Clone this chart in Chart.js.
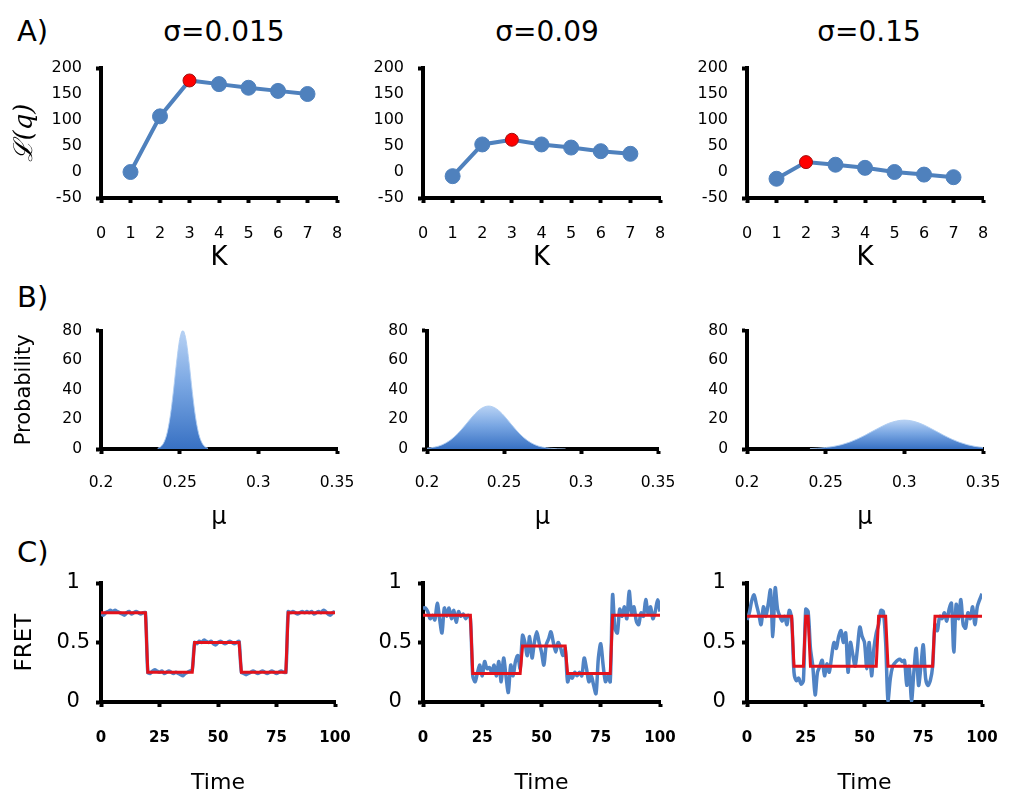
<!DOCTYPE html>
<html><head><meta charset="utf-8">
<script src="https://cdn.jsdelivr.net/npm/chart.js@4/dist/chart.umd.min.js"></script>
<style>
html,body{margin:0;padding:0;background:#fff;width:1024px;height:805px;overflow:hidden;position:relative;font-family:'DejaVu Sans',sans-serif;}
canvas{position:absolute;}
.lbl{position:absolute;color:#000;white-space:nowrap;line-height:1;}
.ctr{transform:translate(-50%,-50%);}
</style></head><body>
<div class="lbl" style="left:17px;top:17px;font-size:29px">A)</div>
<div class="lbl" style="left:17px;top:283px;font-size:29px">B)</div>
<div class="lbl" style="left:17px;top:538px;font-size:29px">C)</div>
<div class="lbl ctr" style="left:224px;top:32px;font-size:28px">σ=0.015</div>
<div class="lbl ctr" style="left:547px;top:32px;font-size:28px">σ=0.09</div>
<div class="lbl ctr" style="left:869px;top:32px;font-size:28px">σ=0.15</div>
<script>
// ---------- Row A: lower bound vs K ----------
const kValues = [1,2,3,4,5,6,7];
const kTicks = [0,1,2,3,4,5,6,7,8];
const likTicks = [-50,0,50,100,150,200];
const likSigma0015 = [0,107,176,169,162,156,150];
const likSigma009 = [-8,53,62,53,47,40,35];
const likSigma015 = [-13,19,14,8,0,-5,-10];

// ---------- Row B: posterior over mu ----------
const muTicks = [0.2,0.25,0.3,0.35];
const probTicks = [0,20,40,60,80];
const muSigma0015 = [0.236,0.238,0.240,0.242,0.244,0.246,0.248,0.250,0.252,0.254,0.256,0.258,0.260,0.262,0.264,0.266,0.268];
const probSigma0015 = [0.48,1.6,4.5,10.8,22.2,38.9,58.1,73.8,80,73.8,58.1,38.9,22.2,10.8,4.5,1.6,0.48];
const muSigma009 = [0.200,0.205,0.210,0.215,0.220,0.225,0.230,0.235,0.240,0.245,0.250,0.255,0.260,0.265,0.270,0.275,0.280,0.285,0.290];
const probSigma009 = [0.49,1.27,2.92,5.89,10.45,16.3,22.5,27.2,29,27.2,22.5,16.3,10.45,5.89,2.92,1.27,0.49,0.16,0.05];
const muSigma015 = [0.240,0.245,0.250,0.255,0.260,0.265,0.270,0.275,0.280,0.285,0.290,0.295,0.300,0.305,0.310,0.315,0.320,0.325,0.330,0.335,0.340,0.345,0.350];
const probSigma015 = [0.27,0.53,1.0,1.75,2.9,4.54,6.68,9.27,12.1,14.9,17.3,18.9,19.5,18.9,17.3,14.9,12.1,9.27,6.68,4.54,2.9,1.75,1.0];

// ---------- Row C: FRET traces and fitted paths ----------
const timeTicks = [0,25,50,75,100];
const fretTicks = [0,0.5,1];
const fretSigma0015 = [
 0.74,0.73,0.75,0.76,0.77,0.76,0.77,0.76,0.75,0.74,0.73,0.75,0.76,0.74,0.75,0.76,0.75,0.74,0.75,0.75,
 0.25,0.24,0.26,0.27,0.26,0.25,0.26,0.24,0.25,0.26,0.25,0.24,0.25,0.24,0.23,0.22,0.24,0.25,0.26,0.27,
 0.50,0.49,0.51,0.50,0.52,0.51,0.50,0.51,0.49,0.48,0.50,0.51,0.50,0.49,0.50,0.51,0.50,0.49,0.50,0.51,
 0.25,0.24,0.23,0.24,0.25,0.26,0.25,0.24,0.25,0.26,0.25,0.24,0.25,0.26,0.25,0.24,0.25,0.26,0.25,0.25,
 0.76,0.75,0.76,0.75,0.74,0.75,0.76,0.75,0.76,0.75,0.76,0.74,0.75,0.76,0.75,0.77,0.76,0.74,0.73,0.75,0.76];
const pathTimeSigma0015 = [0,19,20,39,40,59,60,79,80,100];
const pathLevelSigma0015 = [0.75,0.75,0.25,0.25,0.5,0.5,0.25,0.25,0.75,0.75];

const fretSigma009 = [
 0.79,0.79,0.76,0.70,0.73,0.69,0.83,0.70,0.58,0.79,0.72,0.79,0.70,0.77,0.67,0.76,0.72,0.74,0.70,0.73,0.70,
 0.22,0.17,0.25,0.31,0.22,0.34,0.28,0.29,0.25,0.31,0.22,0.34,0.17,0.37,0.22,0.08,0.31,0.22,0.34,0.39,0.28,
 0.56,0.50,0.39,0.55,0.37,0.50,0.59,0.50,0.42,0.31,0.48,0.53,0.59,0.50,0.42,0.50,0.46,0.39,0.45,
 0.17,0.22,0.20,0.25,0.22,0.25,0.22,0.37,0.28,0.17,0.22,0.14,0.07,0.37,0.49,0.31,0.17,0.22,0.17,
 0.90,0.62,0.58,0.78,0.72,0.80,0.70,0.93,0.75,0.80,0.68,0.65,0.75,0.72,0.86,0.74,0.80,0.70,0.76,0.86,0.76];
const pathTimeSigma009 = [0,20,21,41,42,60,61,79,80,100];
const pathLevelSigma009 = [0.73,0.73,0.24,0.24,0.47,0.47,0.24,0.24,0.73,0.73];

const fretSigma015 = [
 0.69,0.75,0.85,0.90,0.82,0.74,0.65,0.80,0.72,0.82,0.94,0.55,0.96,0.78,0.72,0.68,0.72,0.65,0.77,0.70,
 0.25,0.18,0.20,0.15,0.18,0.78,0.76,0.45,0.30,0.06,0.25,0.30,0.35,0.22,0.32,0.25,0.38,0.50,0.45,0.55,
 0.60,0.50,0.58,0.25,0.50,0.40,0.30,0.45,0.63,0.55,0.50,0.28,0.50,0.22,0.45,0.58,0.65,0.77,0.76,0.50,
 0.01,0.20,0.30,0.33,0.35,0.36,0.34,0.35,0.14,0.30,0.01,0.25,0.45,0.14,0.30,0.48,0.20,0.14,0.18,0.30,
 0.65,0.60,0.72,0.70,0.75,0.68,0.78,0.83,0.42,0.82,0.70,0.86,0.65,0.62,0.75,0.70,0.80,0.65,0.80,0.86,0.91];
const pathTimeSigma015 = [0,19,20,24,25,26,27,55,56,59,60,79,80,100];
const pathLevelSigma015 = [0.72,0.72,0.3,0.3,0.72,0.72,0.3,0.3,0.72,0.72,0.3,0.3,0.72,0.72];

// ---------- styling ----------
Chart.defaults.font.family = "'DejaVu Sans', sans-serif";
Chart.defaults.color = '#000';
const BLUE = '#4F81BD';
const TRACE = '#5083C4';
const RED = '#E3121B';

function fmt(v){ return String(+v.toFixed(3)); }

function panel(p){
  const area = p.area;
  const c = document.createElement('canvas');
  const w = p.x1 - p.x0, h = p.y1 - p.y0;
  c.width = w; c.height = h;
  c.style.left = p.x0 + 'px'; c.style.top = p.y0 + 'px';
  c.style.width = w + 'px'; c.style.height = h + 'px';
  document.body.appendChild(c);
  const yW = area.left - p.x0, padTop = area.top - p.y0, padRight = p.x1 - area.right, xH = p.y1 - area.bottom;
  const yEndsOnly = p.yEndsOnly;
  new Chart(c, {
    type: 'line',
    data: { datasets: p.datasets },
    options: {
      responsive: false, animation: false, devicePixelRatio: 1,
      layout: { padding: { left: 0, top: padTop, right: padRight, bottom: 0 } },
      plugins: { legend: { display: false }, tooltip: { enabled: false } },
      scales: {
        x: {
          type: 'linear', min: p.xMin, max: p.xMax,
          afterBuildTicks: s => { s.ticks = p.xTicks.map(v => ({ value: v })); },
          afterFit: s => { s.height = xH; },
          ticks: { autoSkip: false, maxRotation: 0, minRotation: 0, padding: p.xPad, color: '#000',
                   font: p.xFont, callback: v => fmt(v) },
          grid: { drawOnChartArea: false, drawTicks: true, tickLength: 5, tickWidth: 4, tickColor: '#000' },
          border: { display: true, color: '#000', width: 4 },
          title: { display: true, text: p.xTitle, color: '#000', font: p.xTitleFont,
                   padding: { top: 0, bottom: p.xTitlePad } }
        },
        y: {
          type: 'linear', min: p.yMin, max: p.yMax,
          afterBuildTicks: s => { s.ticks = p.yTicks.map(v => ({ value: v })); },
          afterFit: s => { s.width = yW; },
          ticks: { padding: p.yPad, color: '#000', font: p.yFont, crossAlign: p.yAlign || 'near',
                   callback: v => fmt(v) },
          grid: { drawOnChartArea: false, drawTicks: true, tickLength: 5, tickWidth: 4,
                  tickColor: ctx => (!yEndsOnly || ctx.index === 0 || ctx.index === p.yTicks.length - 1) ? '#000' : 'rgba(0,0,0,0)' },
          border: { display: true, color: '#000', width: 4 },
          title: { display: !!p.yTitle, text: p.yTitle || '', color: '#000', font: p.yTitleFont || {size: 20},
                   padding: { top: p.yTitlePad || 0, bottom: 0 } }
        }
      }
    }
  });
}

// Row A
function likDataset(vals){
  const best = vals.indexOf(Math.max(...vals));
  return {
    data: kValues.map((k, i) => ({ x: k, y: vals[i] })),
    borderColor: BLUE, borderWidth: 4,
    pointRadius: vals.map((v, i) => i === best ? 6.5 : 7.5),
    pointBackgroundColor: vals.map((v, i) => i === best ? '#FF0000' : BLUE),
    pointBorderColor: vals.map((v, i) => i === best ? '#A01010' : BLUE),
    pointBorderWidth: 1
  };
}
const rowA = { y0: 38, y1: 292, xMin: 0, xMax: 8, xTicks: kTicks, yMin: -50, yMax: 200, yTicks: likTicks,
  xPad: 21, yPad: 14, xFont: { size: 16 }, yFont: { size: 16 }, xTitle: 'K', xTitleFont: { size: 26 }, xTitlePad: 18.4,
  yEndsOnly: true };
panel(Object.assign({}, rowA, { x0: 0, x1: 382, area: { left: 101, right: 337, top: 68, bottom: 198 },
  datasets: [likDataset(likSigma0015)], yTitle: 'ℒ(q)', yTitleFont: { size: 26, family: "'DejaVu Serif', serif", style: 'italic' }, yTitlePad: 9.4 }));
panel(Object.assign({}, rowA, { x0: 350, x1: 705, area: { left: 423, right: 660, top: 68, bottom: 198 },
  datasets: [likDataset(likSigma009)] }));
panel(Object.assign({}, rowA, { x0: 680, x1: 1024, area: { left: 747, right: 983, top: 68, bottom: 198 },
  datasets: [likDataset(likSigma015)] }));

// Row B
function gradFill(peak){
  return ctx => {
    const ch = ctx.chart, a = ch.chartArea;
    if (!a) return '#5B8FD6';
    const top = ch.scales.y.getPixelForValue(peak);
    const g = ch.ctx.createLinearGradient(0, top, 0, a.bottom);
    g.addColorStop(0, '#B8D2F4');
    g.addColorStop(0.45, '#7AA7E3');
    g.addColorStop(1, '#3871C3');
    return g;
  };
}
function probDataset(mu, prob){
  return {
    data: mu.map((m, i) => ({ x: m, y: prob[i] })),
    fill: 'origin', backgroundColor: gradFill(Math.max(...prob)),
    borderColor: 'rgba(175,205,242,0.9)', borderWidth: 1, pointRadius: 0,
    cubicInterpolationMode: 'monotone'
  };
}
const rowB = { y0: 300, y1: 545, xMin: 0.2, xMax: 0.35, xTicks: muTicks, yMin: 0, yMax: 80, yTicks: probTicks,
  xPad: 20, yPad: 14, xFont: { size: 15.5 }, yFont: { size: 15.5 }, xTitle: 'μ', xTitleFont: { size: 24 }, xTitlePad: 12.6,
  yEndsOnly: true };
panel(Object.assign({}, rowB, { x0: 0, x1: 382, area: { left: 101, right: 337, top: 330.5, bottom: 449 },
  datasets: [probDataset(muSigma0015, probSigma0015)], yTitle: 'Probability', yTitleFont: { size: 21 }, yTitlePad: 12.4 }));
panel(Object.assign({}, rowB, { x0: 350, x1: 705, area: { left: 427, right: 658, top: 330.5, bottom: 449 },
  datasets: [probDataset(muSigma009, probSigma009)] }));
panel(Object.assign({}, rowB, { x0: 680, x1: 1024, area: { left: 747, right: 983, top: 330.5, bottom: 449 },
  datasets: [probDataset(muSigma015, probSigma015)] }));

// Row C
function traceDatasets(series, pathT, pathV){
  return [
    { data: pathT.map((t, i) => ({ x: t, y: pathV[i] })), borderColor: RED, borderWidth: 3, pointRadius: 0, tension: 0, order: 0 },
    { data: series.map((v, i) => ({ x: i, y: v })), borderColor: TRACE, borderWidth: 3.5, pointRadius: 0, tension: 0.3, order: 1 }
  ];
}
const rowC = { y0: 553, y1: 805, xMin: 0, xMax: 100, xTicks: timeTicks, yMin: 0, yMax: 1, yTicks: fretTicks,
  xPad: 22, yPad: 6, yAlign: 'center', xFont: { size: 15, weight: 'bold' }, yFont: { size: 21 },
  xTitle: 'Time', xTitleFont: { size: 22 }, xTitlePad: 8.8, yEndsOnly: false };
panel(Object.assign({}, rowC, { x0: 0, x1: 380, area: { left: 101, right: 335, top: 583, bottom: 702 },
  datasets: traceDatasets(fretSigma0015, pathTimeSigma0015, pathLevelSigma0015), yTitle: 'FRET', yTitleFont: { size: 23 }, yTitlePad: 11.2 }));
panel(Object.assign({}, rowC, { x0: 350, x1: 705, area: { left: 423, right: 660, top: 583, bottom: 702 },
  datasets: traceDatasets(fretSigma009, pathTimeSigma009, pathLevelSigma009) }));
panel(Object.assign({}, rowC, { x0: 680, x1: 1024, area: { left: 747, right: 982, top: 583, bottom: 702 },
  datasets: traceDatasets(fretSigma015, pathTimeSigma015, pathLevelSigma015) }));
</script>
</body></html>
